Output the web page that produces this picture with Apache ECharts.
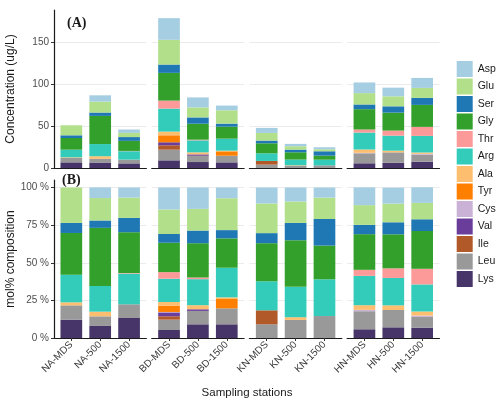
<!DOCTYPE html>
<html>
<head>
<meta charset="utf-8">
<script src="https://cdn.jsdelivr.net/npm/echarts@6/dist/echarts.min.js"></script>
<style>
    html, body { margin: 0; padding: 0; background: #fff; }
    #chart { width: 500px; height: 405px; }
</style>
</head>
<body>
<div id="chart"></div>
<script>
// stations, 3 per sea area
const stations = ['NA-MDS', 'NA-500', 'NA-1500', 'BD-MDS', 'BD-500', 'BD-1500',
    'KN-MDS', 'KN-500', 'KN-1500', 'HN-MDS', 'HN-500', 'HN-1500'];

// stacking order, bottom -> top
const aminoAcids = ['Lys', 'Leu', 'Ile', 'Val', 'Cys', 'Tyr', 'Ala', 'Arg', 'Thr', 'Gly', 'Ser', 'Glu', 'Asp'];

// (A) concentration, ug/L
const concLys = [6.7, 6.5, 5.5, 9.1, 7.1, 6.7, 0, 0, 0, 5.6, 6.3, 7.5];
const concLeu = [5.2, 4.5, 4.5, 12.7, 7.5, 7.9, 4, 2.8, 3.2, 11.9, 12.3, 8.3];
const concIle = [0, 0, 0, 5.2, 0, 0, 4.4, 0, 0, 0, 0, 0];
const concVal = [0, 0, 0, 3.6, 1.6, 0, 0, 0, 0, 0, 0, 0];
const concCys = [0, 0, 0, 0, 0, 0, 0, 0, 0, 0.5, 0, 1];
const concTyr = [0, 0, 0, 8.3, 0, 5.2, 0, 0, 0, 0, 0, 0];
const concAla = [0.8, 3, 0, 4.4, 2.4, 0.8, 0, 0.5, 0, 4, 2, 1.6];
const concArg = [9.1, 14.5, 10, 27.4, 14.3, 14.3, 9.1, 6.7, 6.7, 20.2, 17.9, 19.8];
const concThr = [0, 0, 0.3, 9.5, 0.8, 0, 0, 0, 0, 3.6, 6, 10.7];
const concGly = [13.9, 33.5, 12, 33, 19, 14.3, 11.9, 8.7, 4.8, 24.2, 21.4, 26.2];
const concSer = [3.2, 4, 4.5, 9.9, 7.5, 3.6, 3.2, 3.2, 5.2, 5.6, 7.5, 8.3];
const concGlu = [11.9, 13, 5, 29.4, 11.9, 15.9, 9.1, 4, 2.4, 13.5, 11.9, 11.9];
const concAsp = [0, 7.5, 4, 25.8, 11.9, 5.6, 6, 2.8, 2.4, 12.7, 10.3, 11.9];

// (B) mol% composition
const molLys = [12.2, 8, 13.3, 5.3, 9.1, 9.1, 0, 0, 0, 5.8, 7.1, 6.9];
const molLeu = [9.5, 6.4, 9.1, 6.9, 8.9, 10.6, 9.1, 12, 14.6, 12, 11.5, 7.1];
const molIle = [0, 0, 0, 2.2, 0, 0, 9.3, 0, 0, 0, 0, 0];
const molVal = [0, 0, 0, 2.6, 1.1, 0, 0, 0, 0, 0, 0, 0];
const molCys = [0, 0, 0, 0.3, 0, 0, 0, 0, 0, 0.9, 0, 0.9];
const molTyr = [0, 0, 0, 4.2, 0, 6.2, 0, 0, 0, 0, 0, 0];
const molAla = [2, 3.1, 0, 2.4, 2.7, 1.1, 0, 1.8, 0, 3.1, 3.1, 2.7];
const molArg = [18.4, 17.1, 20.4, 15.5, 17.3, 19.7, 19.3, 20.2, 24.4, 19.5, 18.2, 18];
const molThr = [0, 0, 0.4, 4.4, 1.1, 0, 0, 0, 0, 4, 6.4, 10.4];
const molGly = [27.7, 38.6, 27.1, 19.5, 22.8, 19.5, 25.3, 31, 22.4, 23.7, 22.6, 25.1];
const molSer = [6.7, 4.9, 9.5, 5.8, 8.4, 5.5, 6.7, 11.5, 17.7, 6.2, 8, 7.8];
const molGlu = [23.5, 14.9, 13.5, 16.3, 14.4, 21.2, 19.7, 14.2, 14.2, 13.1, 12.4, 10.9];
const molAsp = [0, 7.1, 6.7, 14.6, 14.2, 7.1, 10.6, 9.3, 6.7, 11.8, 10.6, 10.4];

const concData = {
    Lys: concLys, Leu: concLeu, Ile: concIle, Val: concVal, Cys: concCys, Tyr: concTyr, Ala: concAla,
    Arg: concArg, Thr: concThr, Gly: concGly, Ser: concSer, Glu: concGlu, Asp: concAsp,
};
const molData = {
    Lys: molLys, Leu: molLeu, Ile: molIle, Val: molVal, Cys: molCys, Tyr: molTyr, Ala: molAla,
    Arg: molArg, Thr: molThr, Gly: molGly, Ser: molSer, Glu: molGlu, Asp: molAsp,
};

const colors = {
    Asp: '#A6CEE3', Glu: '#B2DF8A', Ser: '#1F78B4', Gly: '#33A02C', Thr: '#FB9A99',
    Arg: '#33CCBB', Ala: '#FDBF6F', Tyr: '#FF7F00', Cys: '#CAB2D6', Val: '#6A3D9A',
    Ile: '#B15928', Leu: '#999999', Lys: '#473468',
};

const FONT = 'Liberation Sans';
const panelLeft = [54, 151.7, 249.4, 347.1];
const panelWidth = 92.4;
// ggplot-like discrete expansion: bars sit in 0.4..3.6 of the panel
const band = panelWidth / 3.2;
const rows = [
    { top: 10, height: 158, max: 188, interval: 50, data: concData, title: 'Concentration (ug/L)', fmt: v => String(v) },
    { top: 180, height: 158, max: 105, interval: 25, data: molData, title: 'mol% composition', fmt: v => v + ' %' },
];

const grid = [];
const xAxis = [];
const yAxis = [];
const series = [];

// background panels: grid lines, axis lines, y labels
rows.forEach((row, r) => {
    for (let c = 0; c < 4; c++) {
        const idx = grid.length;
        grid.push({ left: panelLeft[c], top: row.top, width: panelWidth, height: row.height });
        xAxis.push({
            type: 'value', gridIndex: idx, min: 0, max: 1,
            axisLine: { show: true, onZero: false, lineStyle: { color: '#1a1a1a', width: 1.2 } },
            axisTick: { show: false },
            axisLabel: { show: false },
            splitLine: { show: false },
        });
        yAxis.push({
            type: 'value',
            gridIndex: idx,
            min: 0,
            max: row.max,
            interval: row.interval,
            name: c === 0 ? row.title : '',
            nameLocation: 'middle',
            nameGap: 37,
            nameTextStyle: { fontFamily: FONT, fontSize: 12, color: '#1a1a1a' },
            axisLine: { show: c === 0, lineStyle: { color: '#1a1a1a', width: 1.2 } },
            axisTick: { show: c === 0, length: 3, lineStyle: { color: '#333' } },
            axisLabel: {
                show: c === 0,
                showMaxLabel: false,
                formatter: row.fmt,
                margin: 5,
                fontFamily: FONT,
                fontSize: 10,
                color: '#4D4D4D',
            },
            splitLine: { show: true, showMaxLine: false, lineStyle: { color: '#EBEBEB', width: 1 } },
        });
    }
});

// bar panels
rows.forEach((row, r) => {
    for (let c = 0; c < 4; c++) {
        const idx = grid.length;
        grid.push({ left: panelLeft[c] + band * 0.1, top: row.top, width: band * 3, height: row.height });
        xAxis.push({
            type: 'category',
            gridIndex: idx,
            data: stations.slice(c * 3, c * 3 + 3),
            axisLine: { show: false },
            axisTick: { show: r === 1, alignWithLabel: true, length: 3, lineStyle: { color: '#333' } },
            axisLabel: {
                show: r === 1,
                interval: 0,
                rotate: 45,
                margin: 5,
                fontFamily: FONT,
                fontSize: 10,
                color: '#3a3a3a',
            },
            splitLine: { show: false },
        });
        yAxis.push({
            type: 'value', gridIndex: idx, min: 0, max: row.max,
            axisLine: { show: false }, axisTick: { show: false },
            axisLabel: { show: false }, splitLine: { show: false },
        });
        aminoAcids.forEach((aa) => {
            series.push({
                name: aa,
                type: 'bar',
                xAxisIndex: idx,
                yAxisIndex: idx,
                stack: 'panel' + idx,
                barWidth: 21.7,
                itemStyle: { color: colors[aa] },
                emphasis: { disabled: true },
                data: row.data[aa].slice(c * 3, c * 3 + 3),
            });
        });
    }
});

const chart = echarts.init(document.getElementById('chart'), null, { renderer: 'canvas' });
chart.setOption({
    animation: false,
    backgroundColor: '#fff',
    grid,
    xAxis,
    yAxis,
    series,
    legend: {
        orient: 'vertical',
        left: 456.7,
        top: 61,
        padding: 0,
        icon: 'rect',
        itemWidth: 16,
        itemHeight: 16,
        itemGap: 1.5,
        itemStyle: { borderWidth: 0 },
        textStyle: { fontFamily: FONT, fontSize: 10.5, color: '#1a1a1a' },
        selectedMode: false,
        data: aminoAcids.slice().reverse(),
    },
    graphic: [
        {
            type: 'text', left: 67, top: 16,
            style: { text: '(A)', font: 'bold 14px "Liberation Serif"', fill: '#1a1a1a' },
        },
        {
            type: 'text', left: 62, top: 173,
            style: { text: '(B)', font: 'bold 14px "Liberation Serif"', fill: '#1a1a1a' },
        },
        {
            type: 'text', x: 247, y: 393,
            style: { text: 'Sampling stations', font: '11.5px "Liberation Sans"', fill: '#1a1a1a', align: 'center', verticalAlign: 'middle' },
        },
    ],
});
</script>
</body>
</html>
